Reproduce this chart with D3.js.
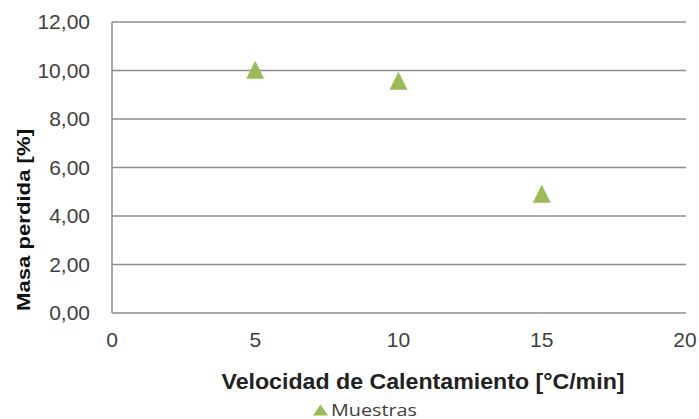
<!DOCTYPE html>
<html><head><meta charset="utf-8">
<script src="https://cdn.jsdelivr.net/npm/d3@7"></script>
<style>body{margin:0;background:#fff}</style>
</head><body>
<svg id="c" width="699" height="419"></svg>
<script>
const xValues = [5, 10, 15];
const yValues = [10.03, 9.58, 4.92];
const seriesName = "Muestras";
const xTicks = [0, 5, 10, 15, 20];
const yTicks = [0, 2, 4, 6, 8, 10, 12];
const xTitle = "Velocidad de Calentamiento [°C/min]";
const yTitle = "Masa perdida [%]";

const svg = d3.select("#c");
const L = 112, R = 685, T = 22, B = 313;
const x = d3.scaleLinear().domain([0, 20]).range([L, R]);
const y = d3.scaleLinear().domain([0, 12]).range([B, T]);
const fmt = v => d3.format(".2f")(v).replace(".", ",");
const green = "#9bbb59";
const grid = "#8c8c8c";

// gridlines
svg.append("g").selectAll("line").data(yTicks).join("line")
  .attr("x1", L).attr("x2", R + 1).attr("y1", d => y(d)).attr("y2", d => y(d))
  .attr("stroke", grid).attr("stroke-width", 1.5);
// left axis line
svg.append("line").attr("x1", L).attr("x2", L).attr("y1", T).attr("y2", B)
  .attr("stroke", grid).attr("stroke-width", 1.5);

// y tick labels
svg.append("g").selectAll("text").data(yTicks).join("text")
  .attr("x", 90).attr("y", d => y(d)).attr("dy", "0.35em")
  .attr("text-anchor", "end").attr("font-family", "Liberation Sans, Arial, sans-serif")
  .attr("font-size", 21).attr("fill", "#404040").text(fmt);
// x tick labels
svg.append("g").selectAll("text").data(xTicks).join("text")
  .attr("x", d => x(d)).attr("y", 340).attr("dy", "0.35em")
  .attr("text-anchor", "middle").attr("font-family", "Liberation Sans, Arial, sans-serif")
  .attr("font-size", 21).attr("fill", "#404040").text(d => d);

// axis titles
svg.append("text").attr("x", 423).attr("y", 389).attr("text-anchor", "middle")
  .attr("font-family", "Liberation Sans, Arial, sans-serif").attr("font-weight", "bold")
  .attr("font-size", 22).attr("fill", "#222").attr("textLength", 403).attr("lengthAdjust", "spacingAndGlyphs")
  .text(xTitle);
svg.append("text").attr("transform", "translate(30,220) rotate(-90)").attr("text-anchor", "middle")
  .attr("font-family", "Liberation Sans, Arial, sans-serif").attr("font-weight", "bold")
  .attr("font-size", 18).attr("fill", "#111").attr("textLength", 182).attr("lengthAdjust", "spacingAndGlyphs")
  .text(yTitle);

// markers
const tri = (cx, cy, w, h) => `M${cx},${cy - h / 2}L${cx + w / 2},${cy + h / 2}L${cx - w / 2},${cy + h / 2}Z`;
svg.append("g").selectAll("path").data(xValues.map((v, i) => [v, yValues[i]])).join("path")
  .attr("d", d => tri(x(d[0]), y(d[1]), 18, 18)).attr("fill", green);

// legend
svg.append("path").attr("d", tri(320.5, 410, 15, 11)).attr("fill", green);
svg.append("text").attr("x", 331).attr("y", 415.5)
  .attr("font-family", "Open Sans, sans-serif").attr("font-size", 16).attr("fill", "#404040")
  .attr("textLength", 86).attr("lengthAdjust", "spacingAndGlyphs").text(seriesName);
</script>
</body></html>
